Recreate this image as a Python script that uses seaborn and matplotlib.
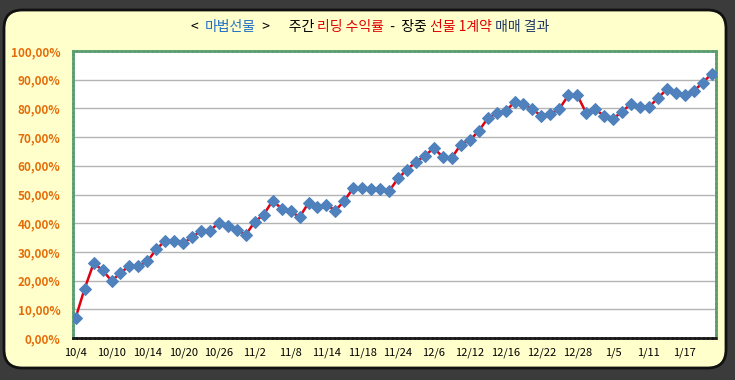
import numpy as np
import pandas as pd
import matplotlib
matplotlib.use("Agg")
import matplotlib.pyplot as plt
import seaborn as sns
from matplotlib.patches import FancyBboxPatch
from matplotlib.ticker import FuncFormatter

# ---- data (cumulative weekly return, %) ----
returns = [7.1, 17.2, 26.0, 23.7, 19.9, 22.6, 25.2, 25.1, 26.7, 30.9,
           33.9, 33.8, 33.0, 35.1, 37.4, 37.4, 40.2, 39.0, 37.7, 36.0,
           40.5, 43.0, 47.9, 45.0, 44.2, 42.1, 47.1, 45.6, 46.4, 44.4,
           47.8, 52.3, 52.3, 52.0, 52.0, 51.2, 55.6, 58.7, 61.4, 63.5,
           66.2, 63.0, 62.8, 67.4, 68.9, 72.1, 76.5, 78.3, 79.0, 82.2,
           81.5, 79.8, 77.3, 78.0, 79.8, 84.5, 84.7, 78.4, 79.7, 77.4,
           76.3, 78.9, 81.5, 80.4, 80.4, 83.6, 86.6, 85.2, 84.7, 86.0,
           88.9, 92.0]
tick_labels = ["10/4", "10/10", "10/14", "10/20", "10/26", "11/2", "11/8",
               "11/14", "11/18", "11/24", "12/6", "12/12", "12/16", "12/22",
               "12/28", "1/5", "1/11", "1/17"]
tick_step = 4

title_parts = [("<  ", "black"), ("마법선물", "#1f6fc5"), ("  >", "black"),
               ("      주간 ", "black"), ("리딩 수익률", "#e00000"),
               ("  -  장중 ", "black"), ("선물 1계약", "#e00000"),
               (" 매매 결과", "#1f3864")]

df = pd.DataFrame({"idx": np.arange(len(returns)), "ret": returns})

W, H = 735, 380
fig = plt.figure(figsize=(W / 100, H / 100), dpi=100, facecolor="#3b3b3b")
plt.rcParams["font.family"] = ["Noto Sans CJK KR", "DejaVu Sans"]

# cream rounded panel (behind the axes)
panel = FancyBboxPatch((4 / W, 12 / H), 722 / W, 358 / H,
                       boxstyle="round,pad=0,rounding_size=0.025",
                       transform=fig.transFigure, facecolor="#ffffcc",
                       edgecolor="#111111", linewidth=2,
                       mutation_aspect=W / H, zorder=-5)
fig.patches.append(panel)

ax = fig.add_axes([73 / W, 1 - 338 / H, (716 - 73) / W, (338 - 51) / H])
ax.set_zorder(2)
ax.set_facecolor("white")

sns.lineplot(data=df, x="idx", y="ret", ax=ax, color="#e00010", linewidth=1.8,
             marker="D", markersize=6, markerfacecolor="#4f81bd",
             markeredgecolor="#4f81bd", zorder=3)

ax.set_xlim(-0.3, 71.5)
ax.set_ylim(0, 100)
ax.set_yticks(np.arange(0, 101, 10))
ax.yaxis.set_major_formatter(FuncFormatter(lambda v, p: f"{v:.2f}%".replace(".", ",")))
ax.set_xticks(np.arange(0, len(returns), tick_step))
ax.set_xticklabels(tick_labels)
ax.grid(axis="y", color="#b4b4b4", linewidth=1)
ax.grid(axis="x", visible=False)
ax.set_xlabel("")
ax.set_ylabel("")
ax.tick_params(axis="y", length=0, pad=9, labelsize=8.5, labelcolor="#e36c09")
ax.tick_params(axis="x", length=0, pad=7, labelsize=8, labelcolor="black")
for lab in ax.get_yticklabels():
    lab.set_fontweight("bold")

for side in ["top", "left", "right"]:
    ax.spines[side].set_color("#5a9e72")
    ax.spines[side].set_linewidth(2)
    ax.spines[side].set_linestyle((0, (1, 0.6)))
ax.spines["bottom"].set_color("#1a1a1a")
ax.spines["bottom"].set_linewidth(2)
ax.spines["bottom"].set_linestyle((0, (1, 0.6)))

# multicolor title, laid out piece by piece
fig.canvas.draw()
renderer = fig.canvas.get_renderer()
texts = []
for s, c in title_parts:
    texts.append(fig.text(0, 1 - 27 / H, s, color=c, fontsize=10, fontweight="medium",
                          va="center", ha="left"))
widths = [t.get_window_extent(renderer).width for t in texts]
x = 370 - sum(widths) / 2
for t, w in zip(texts, widths):
    t.set_x(x / W)
    x += w

fig.savefig("out.png", dpi=100, facecolor=fig.get_facecolor())
